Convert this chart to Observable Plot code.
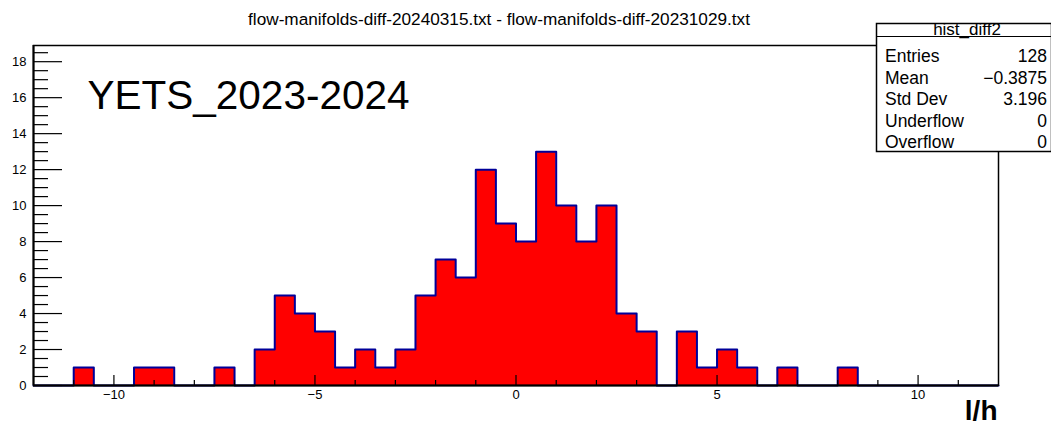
<!DOCTYPE html>
<html><head><meta charset="utf-8">
<script src="https://cdn.jsdelivr.net/npm/d3@7"></script>
<script src="https://cdn.jsdelivr.net/npm/@observablehq/plot@0.6"></script>
<style>
body{margin:0;background:#fff;}
svg{font-family:"Liberation Sans",Arial,Helvetica,sans-serif;}
</style>
</head><body><div id="chart"></div>
<script>
// Histogram hist_diff2: 48 bins of width 0.5 from -12 to 12
const binLow = -12;
const binWidth = 0.5;
const counts = [0,0,1,0,0,1,1,0,0,1,0,2,5,4,3,1,2,1,2,5,7,6,12,9,8,13,10,8,10,4,3,0,3,1,2,1,0,1,0,0,1,0,0,0,0,0,0,0];
const xMajor = [-10,-5,0,5,10];
const xMinor = [-11,-9,-8,-7,-6,-4,-3,-2,-1,1,2,3,4,6,7,8,9,11];
const yMajor = [0,2,4,6,8,10,12,14,16,18];
const yMinor = d3.range(0.5, 18.6, 0.5).filter(v => v % 2 !== 0);
const titleText = "flow-manifolds-diff-20240315.txt - flow-manifolds-diff-20231029.txt";
const labelText = "YETS_2023-2024";
const xLabel = "l/h";
const statsName = "hist_diff2";
const statsLabels = ["Entries","Mean","Std Dev","Underflow","Overflow"];
const statsValues = ["128","\u22120.3875","3.196","0","0"];

const bins = counts.map((c, i) => ({x1: binLow + i*binWidth, x2: binLow + (i+1)*binWidth, count: c}));
const steps = bins.map(b => ({x: b.x1, y: b.count})).concat([{x: bins[bins.length-1].x2, y: counts[counts.length-1]}]);

const W = 1051, H = 425, mL = 33, mR = 53, mT = 45, mB = 40;
const fw = W - mL - mR, fh = H - mT - mB;
const fmt = d => d < 0 ? "\u2212" + Math.abs(d) : String(d);

const svg = Plot.plot({
  width: W, height: H,
  marginLeft: mL, marginRight: mR, marginTop: mT, marginBottom: mB,
  style: {background: "white", overflow: "visible", fontSize: "12px", fontFamily: '"Liberation Sans", Arial, Helvetica, sans-serif'},
  x: {domain: [-12, 12]},
  y: {domain: [0, 18.9]},
  marks: [
    Plot.areaY(steps, {x: "x", y: "y", curve: "step-after", fill: "#ff0000"}),
    Plot.line(steps, {x: "x", y: "y", curve: "step-after", stroke: "#000099", strokeWidth: 2}),
    Plot.tickY(yMajor, {y: d => d, insetRight: fw - 29, stroke: "black", strokeWidth: 1.2}),
    Plot.tickY(yMinor, {y: d => d, insetRight: fw - 15, stroke: "black", strokeWidth: 1.2}),
    Plot.tickX(xMajor, {x: d => d, insetTop: fh - 10, stroke: "black", strokeWidth: 1.2}),
    Plot.tickX(xMinor, {x: d => d, insetTop: fh - 5, stroke: "black", strokeWidth: 1.2}),
    Plot.axisY({ticks: yMajor, tickSize: 0, tickPadding: 7, label: null, tickFormat: fmt}),
    Plot.axisX({ticks: xMajor, tickSize: 0, tickPadding: 4, label: null, tickFormat: fmt}),
    Plot.frame({stroke: "black", strokeWidth: 1.5}),
    Plot.ruleX([-12], {stroke: "black", strokeWidth: 2}),
    Plot.ruleY([0], {stroke: "black", strokeWidth: 2}),
    Plot.text([labelText], {text: d => d, frameAnchor: "top-left", textAnchor: "start", lineAnchor: "bottom", dx: 54, dy: 63, fontSize: 40.5, fill: "black"}),
    Plot.text([titleText], {text: d => d, frameAnchor: "top", textAnchor: "middle", lineAnchor: "bottom", dx: -17, dy: -21, fontSize: 17.2, fill: "black"}),
    Plot.text([xLabel], {text: d => d, frameAnchor: "bottom-right", textAnchor: "end", lineAnchor: "bottom", dx: -1, dy: 34, fontSize: 28, fontWeight: "bold", fill: "black"})
  ]
});

const s = d3.select(svg);
// axis tick label size
s.selectAll("g[aria-label='y-axis tick label'], g[aria-label='x-axis tick label']").attr("font-size", 13);
s.selectAll("g[aria-label='y-axis tick label'] text, g[aria-label='x-axis tick label'] text").attr("font-size", 13);

// statistics box
const bx = 876.5, by = 23.5, bw = 175, bh = 128;
const g = s.append("g").attr("font-size", 17.5).attr("fill", "black").attr("text-anchor", "start");
g.append("rect").attr("x", bx).attr("y", by).attr("width", bw).attr("height", bh)
  .attr("fill", "white").attr("stroke", "black").attr("stroke-width", 1.5);
g.append("line").attr("x1", bx).attr("x2", bx + bw).attr("y1", 36.5).attr("y2", 36.5)
  .attr("stroke", "black").attr("stroke-width", 1.2);
g.append("text").attr("x", 967).attr("y", 35).attr("text-anchor", "middle").attr("font-size", 17).text(statsName);
statsLabels.forEach((lab, i) => {
  const yy = 62 + i * 21.5;
  g.append("text").attr("x", 885).attr("y", yy).attr("text-anchor", "start").text(lab);
  g.append("text").attr("x", 1047).attr("y", yy).attr("text-anchor", "end").text(statsValues[i]);
});

document.getElementById("chart").appendChild(svg);
</script>
</body></html>
